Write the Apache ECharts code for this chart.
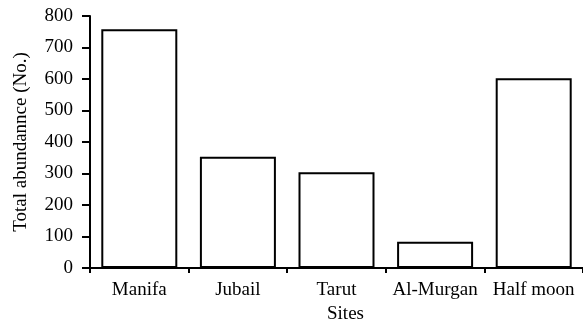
<!DOCTYPE html>
<html>
<head>
<meta charset="utf-8">
<style>
  html, body { margin: 0; padding: 0; background: #fff; }
  #chart { width: 583px; height: 326px; }
</style>
<script src="https://cdn.jsdelivr.net/npm/echarts@6/dist/echarts.min.js"></script>
</head>
<body>
<div id="chart"></div>
<script>
// Sampling sites and total abundance counted at each
const sites = ['Manifa', 'Jubail', 'Tarut', 'Al-Murgan', 'Half moon'];
const abundance = [758, 353, 304, 83, 602];
const yTicks = [0, 100, 200, 300, 400, 500, 600, 700, 800];

const serif = 'Liberation Serif, Times New Roman, serif';
const chart = echarts.init(document.getElementById('chart'), null, { renderer: 'canvas' });

chart.setOption({
  animation: false,
  backgroundColor: '#ffffff',
  grid: { left: 90, right: 0, top: 16, bottom: 58, containLabel: false, outerBoundsMode: 'none' },
  xAxis: {
    type: 'category',
    data: sites,
    name: 'Sites',
    nameLocation: 'middle',
    nameGap: 37,
    nameTextStyle: { fontFamily: serif, fontSize: 19, color: '#000', padding: [0, 0, 0, 18] },
    axisLine: { lineStyle: { color: '#000', width: 2 } },
    axisTick: { show: true, interval: 0, alignWithLabel: false, length: 5, lineStyle: { color: '#000', width: 2 } },
    axisLabel: { interval: 0, hideOverlap: false, fontFamily: serif, fontSize: 19, color: '#000', margin: 13 },
    splitLine: { show: false }
  },
  yAxis: {
    type: 'value',
    min: yTicks[0],
    max: yTicks[yTicks.length - 1],
    interval: yTicks[1] - yTicks[0],
    name: 'Total abundannce (No.)',
    nameLocation: 'middle',
    nameGap: 59,
    nameTextStyle: { fontFamily: serif, fontSize: 19, color: '#000' },
    axisLine: { show: true, lineStyle: { color: '#000', width: 2 } },
    axisTick: { show: true, length: 8, lineStyle: { color: '#000', width: 2 } },
    axisLabel: { fontFamily: serif, fontSize: 19, color: '#000', margin: 17 },
    splitLine: { show: false }
  },
  series: [{
    type: 'bar',
    data: abundance,
    barWidth: 76,
    itemStyle: { color: '#ffffff', borderColor: '#000', borderWidth: 2 }
  }]
});
</script>
</body>
</html>
